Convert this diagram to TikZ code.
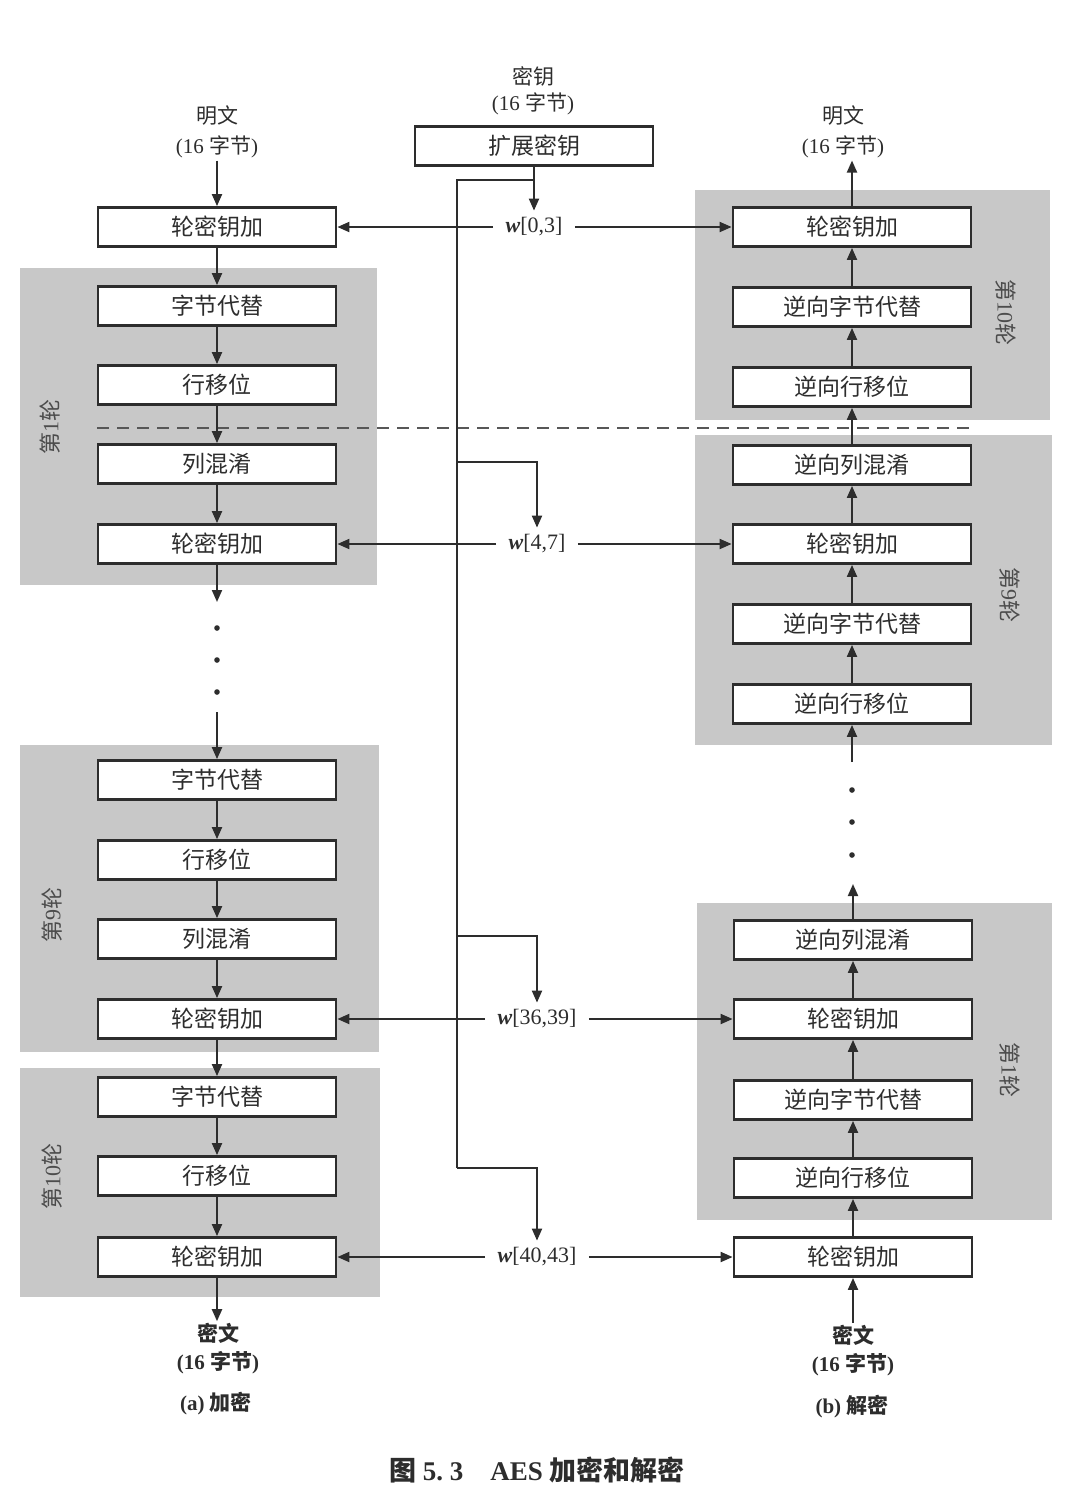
\documentclass[tikz,border=0pt]{standalone}
\usepackage{fontspec}
\setmainfont{Liberation Serif}
\newfontfamily\cjk{Noto Sans CJK SC}
\usetikzlibrary{arrows.meta,positioning}
\definecolor{roundgray}{RGB}{200,200,200}
\definecolor{ink}{RGB}{45,45,45}
\newcommand{\zh}[1]{{\cjk #1}}

\begin{document}
\begin{tikzpicture}[x=0.5pt,y=-0.5pt,
  >={Triangle[length=6pt,width=5pt]},
  stage/.style={draw=ink,line width=1.4pt,fill=white,text=ink,
    minimum width=119pt,minimum height=19.5pt,inner sep=0pt,
    font=\cjk\fontsize{11.5}{12}\selectfont},
  info/.style={align=center,text=ink,inner sep=1pt,
    font=\fontsize{10.5}{15}\selectfont},
  roundlbl/.style={text=ink!85,font=\fontsize{11}{12}\selectfont},
  wlbl/.style={text=ink,inner xsep=6pt,font=\fontsize{11}{12}\selectfont},
  flow/.style={->,draw=ink,line width=1pt},
  wire/.style={draw=ink,line width=1pt},
  cut/.style={draw=ink!80,line width=1pt,dash pattern=on 6pt off 4pt}]
  \useasboundingbox (0,0) rectangle (1083,1501);

  % round blocks
  \fill[roundgray] (20,268) rectangle (377,585);
  \fill[roundgray] (20,745) rectangle (379,1052);
  \fill[roundgray] (20,1068) rectangle (380,1297);
  \fill[roundgray] (695,190) rectangle (1050,420);
  \fill[roundgray] (695,435) rectangle (1052,745);
  \fill[roundgray] (697,903) rectangle (1052,1220);
  \draw[cut] (97,428) -- (972,428);

  % encryption
  \node[info] (eIn) at (217,132) {\zh{明文}\\(16 \zh{字节})};
  \node[stage] (eAK0) at (217,227) {轮密钥加};
  \node[stage] (e1SB) at (217,306) {字节代替};
  \node[stage] (e1SR) at (217,385) {行移位};
  \node[stage] (e1MC) at (217,464) {列混淆};
  \node[stage] (e1AK) at (217,544) {轮密钥加};
  \node[stage] (e9SB) at (217,780) {字节代替};
  \node[stage] (e9SR) at (217,860) {行移位};
  \node[stage] (e9MC) at (217,939) {列混淆};
  \node[stage] (e9AK) at (217,1019) {轮密钥加};
  \node[stage] (e10SB) at (217,1097) {字节代替};
  \node[stage] (e10SR) at (217,1176) {行移位};
  \node[stage] (e10AK) at (217,1257) {轮密钥加};
  \node[info,font=\bfseries\fontsize{10.5}{14}\selectfont] (eOut) at (218,1349) {\zh{密文}\\(16 \zh{字节})};
  \node[info,font=\bfseries\fontsize{10.5}{12}\selectfont] (eCap) at (216,1404) {(a) \zh{加密}};
  \node[roundlbl,rotate=90] (eR1) at (50,427) {\zh{第}1\zh{轮}};
  \node[roundlbl,rotate=90] (eR9) at (52,915) {\zh{第}9\zh{轮}};
  \node[roundlbl,rotate=90] (eR10) at (52,1176) {\zh{第}10\zh{轮}};

  % key schedule
  \node[info,font=\fontsize{10.5}{13}\selectfont] (keyIn) at (533,91) {\zh{密钥}\\(16 \zh{字节})};
  \node[stage] (keyExp) at (534,146) {扩展密钥};
  \node[wlbl] (w0) at (534,227) {\textbf{\textit{w}}[0,3]};
  \node[wlbl] (w4) at (537,544) {\textbf{\textit{w}}[4,7]};
  \node[wlbl] (w36) at (537,1019) {\textbf{\textit{w}}[36,39]};
  \node[wlbl] (w40) at (537,1257) {\textbf{\textit{w}}[40,43]};

  % decryption
  \node[info] (dOut) at (843,132) {\zh{明文}\\(16 \zh{字节})};
  \node[stage] (dAK0) at (852,227) {轮密钥加};
  \node[stage] (d10ISB) at (852,307) {逆向字节代替};
  \node[stage] (d10ISR) at (852,387) {逆向行移位};
  \node[stage] (d9IMC) at (852,465) {逆向列混淆};
  \node[stage] (d9AK) at (852,544) {轮密钥加};
  \node[stage] (d9ISB) at (852,624) {逆向字节代替};
  \node[stage] (d9ISR) at (852,704) {逆向行移位};
  \node[stage] (d1IMC) at (853,940) {逆向列混淆};
  \node[stage] (d1AK) at (853,1019) {轮密钥加};
  \node[stage] (d1ISB) at (853,1100) {逆向字节代替};
  \node[stage] (d1ISR) at (853,1178) {逆向行移位};
  \node[stage] (dAKn) at (853,1257) {轮密钥加};
  \node[info,font=\bfseries\fontsize{10.5}{14}\selectfont] (dIn) at (853,1351) {\zh{密文}\\(16 \zh{字节})};
  \node[info,font=\bfseries\fontsize{10.5}{12}\selectfont] (dCap) at (852,1407) {(b) \zh{解密}};
  \node[roundlbl,rotate=-90] (dR10) at (1006,312) {\zh{第}10\zh{轮}};
  \node[roundlbl,rotate=-90] (dR9) at (1010,595) {\zh{第}9\zh{轮}};
  \node[roundlbl,rotate=-90] (dR1) at (1010,1070) {\zh{第}1\zh{轮}};

  \node[font=\bfseries\fontsize{13.5}{14}\selectfont,text=ink] (fig) at (537,1470)
    {\zh{图}~5.~3\quad AES \zh{加密和解密}};

  % encryption flow
  \draw[flow] (eIn) -- (eAK0);
  \foreach \a/\b in {eAK0/e1SB,e1SB/e1SR,e1SR/e1MC,e1MC/e1AK,
      e9SB/e9SR,e9SR/e9MC,e9MC/e9AK,e9AK/e10SB,e10SB/e10SR,e10SR/e10AK}
    \draw[flow] (\a) -- (\b);
  \draw[flow] (e10AK.south) -- (e10AK.south |- eOut.north);
  \coordinate (eGapTop) at (217,602);
  \coordinate (eGapBot) at (217,712);
  \draw[flow] (e1AK) -- (eGapTop);
  \draw[flow] (eGapBot) -- (e9SB);
  \foreach \y in {628,660,692}
    \fill[ink] (217,\y) circle (1.4pt);

  % decryption flow
  \foreach \a/\b in {dIn/dAKn,dAKn/d1ISR,d1ISR/d1ISB,d1ISB/d1AK,d1AK/d1IMC,
      d9ISR/d9ISB,d9ISB/d9AK,d9AK/d9IMC,d9IMC/d10ISR,d10ISR/d10ISB,d10ISB/dAK0}
    \draw[flow] (\a) -- (\b);
  \draw[flow] (dAK0.north) -- (dAK0.north |- dOut.south);
  \coordinate (dGapBot) at (852,762);
  \coordinate (dGapTop) at (853,884);
  \draw[flow] (dGapBot) -- (d9ISR);
  \draw[flow] (d1IMC) -- (dGapTop);
  \foreach \y in {790,822,855}
    \fill[ink] (852,\y) circle (1.4pt);

  % round keys
  \coordinate (kSplit) at (534,180);
  \coordinate (trunkTop) at (457,180);
  \coordinate (tap4) at (457,462);
  \coordinate (tap36) at (457,936);
  \coordinate (tap40) at (457,1168);
  \draw[wire] (keyExp.south) -- (kSplit) -- (trunkTop) -- (tap40);
  \draw[flow] (kSplit) -- (w0);
  \draw[flow] (tap4) -| (w4);
  \draw[flow] (tap36) -| (w36);
  \draw[flow] (tap40) -| (w40);
  \foreach \w/\l/\r in {w0/eAK0/dAK0,w4/e1AK/d9AK,w36/e9AK/d1AK,w40/e10AK/dAKn} {
    \draw[flow] (\w) -- (\l);
    \draw[flow] (\w) -- (\r);
  }
\end{tikzpicture}
\end{document}
